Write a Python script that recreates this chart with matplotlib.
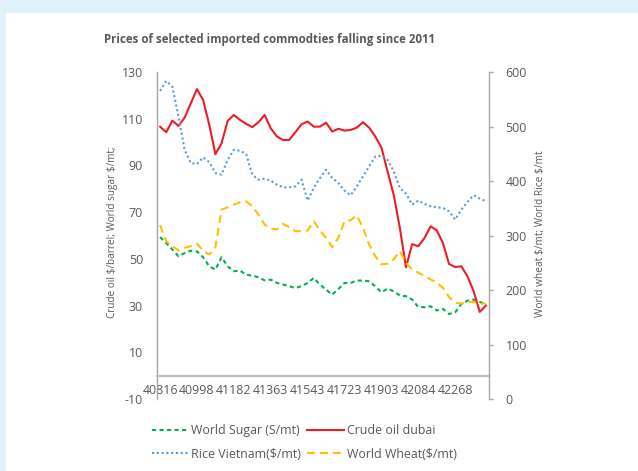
import matplotlib
matplotlib.use("Agg")
import matplotlib.pyplot as plt
from matplotlib.patches import Rectangle

plt.rcParams["font.family"] = ["Open Sans", "DejaVu Sans"]
plt.rcParams["axes.unicode_minus"] = False

# Monthly observations, Sep 2011 - Feb 2016 (54 months); axis labelled with Excel date serials
tick_labels = ["40816", "40998", "41182", "41363", "41543", "41723", "41903", "42084", "42268"]
n_months = 54

# Left axis series
crude_oil = [106.6, 104.2, 109.2, 106.9, 110.5, 116.6, 122.7, 118.0, 107.4, 94.8, 99.5, 109.1, 111.6, 109.5,
             107.8, 106.4, 108.5, 111.6, 105.9, 102.4, 100.9, 100.9, 104.2, 107.6, 108.8, 106.6, 106.6,
             108.3, 104.5, 105.7, 104.9, 105.2, 106.2, 108.5, 106.2, 102.4, 97.7, 87.4, 77.4, 63.2, 46.4,
             56.3, 55.4, 58.9, 63.9, 62.2, 56.8, 47.8, 46.5, 46.8, 42.5, 36.1, 27.3, 30.0]
sugar = [59.3, 56.8, 54.0, 51.1, 52.5, 53.5, 53.2, 50.7, 46.8, 45.4, 50.7, 46.8, 44.7, 45.0,
         43.2, 42.8, 42.1, 40.8, 41.1, 39.7, 39.0, 38.3, 37.5, 38.3, 39.7, 41.8, 39.0,
         36.8, 34.7, 37.1, 39.7, 39.7, 40.7, 40.7, 40.4, 38.3, 35.7, 37.3, 36.1, 34.3, 34.0,
         32.6, 29.4, 29.3, 29.7, 27.9, 28.6, 26.4, 27.1, 30.7, 32.1, 32.6, 31.6, 30.4]

# Right axis series
wheat = [319, 289.6, 280.5, 272.5, 277.4, 280.5, 285.4, 271.3, 265.2, 278.6, 347.5, 351.8, 356.7, 361,
         362.8, 353.7, 338.4, 320.1, 312.8, 311, 321.3, 315.2, 308, 308, 309.1, 326.2, 309.1,
         295.7, 278.6, 295.7, 326.2, 328, 337.2, 314, 283.5, 262.2, 247, 248.2, 256.1, 271.3, 250,
         237.8, 231.7, 225.6, 219.5, 213.4, 204.3, 187.2, 176.8, 175, 178.7, 178, 175, 175]
rice = [565.2, 583.5, 573.2, 518, 457, 433, 431, 443.3, 434.8, 414.6, 411.6, 439, 457.3, 455.5,
        449.4, 411.6, 402.4, 404.3, 400.6, 393.3, 388.4, 388.4, 390.2, 402.4, 364, 387.2, 405.5,
        420.7, 405.5, 396.3, 382.3, 373.8, 390.2, 408.5, 426.8, 445.1, 446.3, 439, 417.7, 387.2, 377,
        356.7, 364, 357.9, 353.7, 351.8, 350.6, 344.5, 329.3, 347.5, 361.6, 373.8, 367.7, 362.8]

TXT = "#595959"
AXC = "#BFBFBF"
W, H = 638, 471

fig = plt.figure(figsize=(W / 100, H / 100), dpi=100)
fig.patch.set_facecolor("#DFF1FA")
fig.add_artist(Rectangle((6 / W, 0), 1, (H - 13) / H, transform=fig.transFigure,
                         facecolor="white", edgecolor="none", zorder=0))

ax = fig.add_axes([157 / W, 1 - 399 / H, (489 - 157) / W, (399 - 72) / H])
ax.set_facecolor("none")
ax2 = ax.twinx()

x = list(range(n_months))
lw = 1.5
ax.plot(x, sugar, color="#00B050", lw=lw, dashes=(2.0, 1.6), label="World Sugar (S/mt)")
ax.plot(x, crude_oil, color="#EE1C25", lw=lw, label="Crude oil dubai")
ax2.plot(x, rice, color="#5B9BD5", lw=lw, dashes=(1.0, 1.3), label="Rice Vietnam(\\$/mt)")
ax2.plot(x, wheat, color="#FFC000", lw=lw, dashes=(3.8, 2.4), label="World Wheat(\\$/mt)")

ax.set_xlim(-0.5, n_months - 0.5)
ax.set_ylim(-10, 130)
ax2.set_ylim(0, 600)

ax.set_xticks(range(0, 6 * len(tick_labels), 6))
ax.set_xticklabels(tick_labels)
ax.set_yticks(range(-10, 131, 20))
ax2.set_yticks(range(0, 601, 100))

for s in ["top", "right"]:
    ax.spines[s].set_visible(False)
for s in ["top", "left", "bottom"]:
    ax2.spines[s].set_visible(False)
ax.spines["bottom"].set_position(("data", 0))
ax.spines["bottom"].set_color(AXC)
ax.spines["bottom"].set_linewidth(1.6)
ax.spines["left"].set_color("#A6A6A6")
ax.spines["left"].set_linewidth(1.0)
ax2.spines["right"].set_color("#A6A6A6")
ax2.spines["right"].set_linewidth(1.0)

fs = 8.9
ax.tick_params(axis="x", length=0, pad=6, labelsize=fs, labelcolor=TXT)
ax.tick_params(axis="y", length=0, pad=10, labelsize=fs, labelcolor=TXT)
ax2.tick_params(axis="y", length=3, width=1.0, color="#A6A6A6", pad=9, labelsize=fs, labelcolor=TXT)

fig.text(270 / W, 1 - 39 / H, "Prices of selected imported commodties falling since 2011",
         ha="center", va="center", fontsize=8.3, fontweight="bold", color=TXT)
fig.text(113 / W, 1 - 232 / H, "Crude oil \\$/barrel; World sugar \\$/mt;", rotation=90,
         ha="center", va="center", fontsize=7.2, color=TXT)
fig.text(541 / W, 1 - 234 / H, "World wheat \\$/mt; World Rice \\$/mt", rotation=90,
         ha="center", va="center", fontsize=7.3, color=TXT)

h1, l1 = ax.get_legend_handles_labels()
h2, l2 = ax2.get_legend_handles_labels()
handles = [h1[0], h2[0], h1[1], h2[1]]
labels = [l1[0], l2[0], l1[1], l2[1]]
leg = fig.legend(handles, labels, ncol=2, loc="upper left",
                 bbox_to_anchor=(151.5 / W, 1 - 424 / H), frameon=False,
                 fontsize=fs, handlelength=3.0, handletextpad=0.2, columnspacing=0.5,
                 labelspacing=0.85, borderpad=0, borderaxespad=0)
for t in leg.get_texts():
    t.set_color(TXT)

fig.savefig("out.png", dpi=100, facecolor=fig.get_facecolor())
